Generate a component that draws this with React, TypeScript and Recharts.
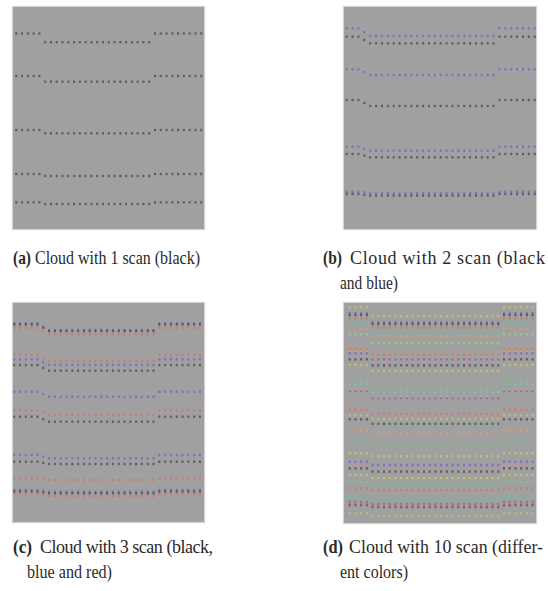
import { ScatterChart, Scatter, XAxis, YAxis } from 'recharts';

// scan colours
const colors: Record<string, string> = {
  black: '#404040',
  blue: '#6060d8',
  red: '#e46a56',
  yellow: '#cfd452',
  green: '#62d07c',
  teal: '#52c8aa',
  orange: '#e4a252',
  lime: '#a6dc62',
  pink: '#de82a8',
  cyan: '#66ccd2',
};

// point index along each scan line
const xIdx = [0, 1, 2, 3, 4, 5, 6, 7, 8, 9, 10, 11, 12, 13, 14, 15, 16, 17, 18, 19, 20, 21, 22, 23, 24, 25, 26, 27, 28, 29, 30, 31, 32];

// how much of the row dip applies at each index (middle part of each line sits lower)
const dipA = [0, 0, 0, 0, 0, 1, 1, 1, 1, 1, 1, 1, 1, 1, 1, 1, 1, 1, 1, 1, 1, 1, 1, 1, 0, 0, 0, 0, 0, 0, 0, 0, 0];
const dipB = [0, 0, 0, 0.5, 1, 1, 1, 1, 1, 1, 1, 1, 1, 1, 1, 1, 1, 1, 1, 1, 1, 1, 1, 1, 1, 1, 0, 0, 0, 0, 0, 0, 0];
const dipC = [0, 0, 0, 0, 0, 0.5, 1, 1, 1, 1, 1, 1, 1, 1, 1, 1, 1, 1, 1, 1, 1, 1, 1, 1, 1, 0, 0, 0, 0, 0, 0, 0, 0];
const dipD = [0, 0, 0, 0, 1, 1, 1, 1, 1, 1, 1, 1, 1, 1, 1, 1, 1, 1, 1, 1, 1, 1, 1, 1, 1, 1, 1, 0, 0, 0, 0, 0, 0];

// rows: [level at the ends, dip in the middle, scan colour]
type Row = [number, number, string];

const rowsA: Row[] = [
  [26.5, 8.7, 'black'],
  [69, 5.7, 'black'],
  [123, 3.3, 'black'],
  [167, 2, 'black'],
  [195.3, 1.7, 'black'],
];

const rowsB: Row[] = [
  [21.3, 7.7, 'blue'],
  [29.7, 6.6, 'black'],
  [62.3, 5.7, 'blue'],
  [93, 6, 'black'],
  [139.7, 4, 'blue'],
  [147, 3.3, 'black'],
  [184.7, 1.6, 'blue'],
  [187, 1.6, 'black'],
];

const rowsC: Row[] = [
  [20.3, 6.7, 'blue'],
  [21.5, 6.5, 'black'],
  [25, 6.3, 'red'],
  [52, 6, 'red'],
  [56.3, 5.7, 'blue'],
  [62, 5.7, 'black'],
  [88.7, 5, 'blue'],
  [107.5, 4.5, 'red'],
  [113.7, 5, 'black'],
  [152, 3.3, 'blue'],
  [158.7, 2.3, 'black'],
  [175.3, 1.7, 'red'],
  [187, 1.7, 'blue'],
  [188.5, 1.7, 'black'],
  [191, 2, 'red'],
];

const rowsD: Row[] = [
  [4.3, 9, 'yellow'],
  [10.3, 9, 'blue'],
  [12, 9, 'black'],
  [15.3, 9, 'red'],
  [20.3, 8, 'teal'],
  [25.3, 8, 'orange'],
  [31.3, 9, 'lime'],
  [46.3, 6, 'red'],
  [48, 6, 'orange'],
  [50.3, 6, 'blue'],
  [53, 6, 'pink'],
  [56.3, 6, 'black'],
  [62, 6, 'yellow'],
  [77, 8, 'green'],
  [81, 8, 'cyan'],
  [86.3, 7, 'orange'],
  [88, 7, 'blue'],
  [107, 4, 'red'],
  [109, 4, 'pink'],
  [112, 4, 'lime'],
  [116.3, 4.5, 'black'],
  [127, 4, 'orange'],
  [138.7, 3.5, 'green'],
  [150.3, 3, 'yellow'],
  [158.7, 3.3, 'blue'],
  [162, 3, 'pink'],
  [165.3, 3.3, 'black'],
  [172, 3, 'yellow'],
  [178.7, 2, 'green'],
  [185.3, 2, 'red'],
  [194.3, 2, 'teal'],
  [199, 2, 'blue'],
  [200.5, 2, 'red'],
  [202, 2, 'black'],
  [210.3, 3, 'lime'],
];

function seriesFor(rows: Row[], dip: number[]) {
  const groups: Record<string, { x: number; y: number }[]> = {};
  rows.forEach(([level, d, c]) => {
    if (!groups[c]) groups[c] = [];
    xIdx.forEach((x, i) => groups[c].push({ x, y: level + dip[i] * d }));
  });
  return Object.keys(groups).map((c) => ({ color: colors[c], data: groups[c] }));
}

const Dot = (props: any) => {
  const { cx, cy, fill } = props;
  return <rect x={cx - 1} y={cy - 1.2} width={2} height={2.4} fill={fill} fillOpacity={0.7} />;
};

function Panel({ left, top, width, height, rows, dip, xDomain }: any) {
  const series = seriesFor(rows, dip);
  return (
    <div style={{ position: 'absolute', left, top, width, height, background: '#a0a0a0', boxShadow: '0 0 1px 1px #d4d4d4' }}>
      <ScatterChart width={width} height={height} margin={{ top: 0, right: 0, bottom: 0, left: 0 }}>
        <XAxis type="number" dataKey="x" domain={xDomain} hide />
        <YAxis type="number" dataKey="y" domain={[0, height]} reversed hide />
        {series.map((s, i) => (
          <Scatter key={i} data={s.data} fill={s.color} shape={Dot} isAnimationActive={false} />
        ))}
      </ScatterChart>
    </div>
  );
}

const capStyle = { fontFamily: '"Liberation Serif", "DejaVu Serif", serif', fontSize: 18, fill: '#2a2a2a' };
const labStyle = { ...capStyle, fontWeight: 'bold' as const };

export default function App() {
  return (
    <div style={{ position: 'absolute', left: 0, top: 0, width: 548, height: 591, background: '#fff', overflow: 'hidden' }}>
      <Panel left={13} top={7} width={191} height={222} rows={rowsA} dip={dipA} xDomain={[-0.57, 32.48]} />
      <Panel left={344} top={7} width={192} height={222} rows={rowsB} dip={dipB} xDomain={[-0.46, 32.22]} />
      <Panel left={13} top={303} width={191} height={219} rows={rowsC} dip={dipC} xDomain={[-0.22, 32.7]} />
      <Panel left={344} top={303} width={192} height={220} rows={rowsD} dip={dipD} xDomain={[-1, 32.6]} />
      <svg width={548} height={591} style={{ position: 'absolute', left: 0, top: 0, pointerEvents: 'none' }}>
        <text x={13} y={264} textLength={18} lengthAdjust="spacingAndGlyphs" style={labStyle}>(a)</text>
        <text x={35} y={264} textLength={165} lengthAdjust="spacingAndGlyphs" style={capStyle}>Cloud with 1 scan (black)</text>

        <text x={323} y={264} textLength={19} lengthAdjust="spacingAndGlyphs" style={labStyle}>(b)</text>
        <text x={350} y={264} textLength={195} lengthAdjust="spacing" style={capStyle}>Cloud with 2 scan (black</text>
        <text x={340} y={289} textLength={58} lengthAdjust="spacingAndGlyphs" style={capStyle}>and blue)</text>

        <text x={13} y={553} textLength={19} lengthAdjust="spacingAndGlyphs" style={labStyle}>(c)</text>
        <text x={40} y={553} textLength={173} lengthAdjust="spacing" style={capStyle}>Cloud with 3 scan (black,</text>
        <text x={27} y={578} textLength={85} lengthAdjust="spacingAndGlyphs" style={capStyle}>blue and red)</text>

        <text x={323} y={553} textLength={20} lengthAdjust="spacingAndGlyphs" style={labStyle}>(d)</text>
        <text x={349} y={553} textLength={194} lengthAdjust="spacingAndGlyphs" style={capStyle}>Cloud with 10 scan (differ-</text>
        <text x={340} y={578} textLength={68} lengthAdjust="spacingAndGlyphs" style={capStyle}>ent colors)</text>
      </svg>
    </div>
  );
}
